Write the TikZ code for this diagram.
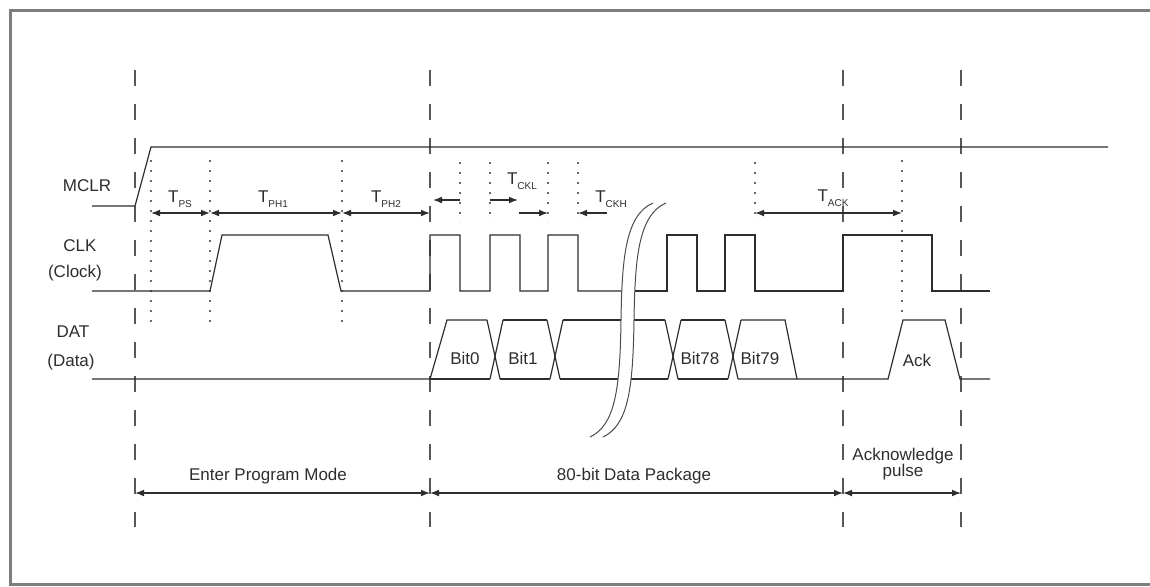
\documentclass[tikz,border=0pt]{standalone}
\usepackage{fontspec}
\setmainfont{Liberation Sans}
\usetikzlibrary{arrows.meta}
\definecolor{framegray}{RGB}{125,125,125}
\definecolor{ink}{RGB}{45,45,45}
\newcommand{\tsub}[1]{T\raisebox{-2.3pt}{\fontsize{5}{6}\selectfont #1}}
\begin{document}
\begin{tikzpicture}[x=0.5pt,y=-0.5pt,
  wave/.style={draw=ink, line width=0.6pt, line join=miter},
  vdash/.style={draw=ink!80, line width=0.6pt, dash pattern=on 8pt off 9pt},
  vdot/.style={draw=ink!70, line width=0.6pt, dash pattern=on 1.2pt off 3.8pt},
  dim/.style={draw=ink, line width=0.6pt, {Latex[length=4.5pt,width=3.4pt]}-{Latex[length=4.5pt,width=3.4pt]}},
  ptr/.style={draw=ink, line width=0.6pt, -{Latex[length=4.5pt,width=3.4pt]}},
  lbl/.style={font=\fontsize{8.5}{10}\selectfont, text=ink, inner sep=0pt},
  brk/.style={draw=ink!85, line width=0.5pt}
]
\useasboundingbox (0,0) rectangle (1150,586);
% frame
\draw[draw=framegray, line width=1.5pt] (1150,10) -- (10,10) -- (10,584) -- (1150,584);

% long dashed phase lines
\foreach \xx in {135,430,843,961} {
  \draw[vdash] (\xx,70) -- (\xx,527);
}
% dotted timing lines
\foreach \xx in {151,210,342} {
  \draw[vdot] (\xx,160) -- (\xx,327);
}
\foreach \xx in {460,490,548,578,755} {
  \draw[vdot] (\xx,162) -- (\xx,222);
}
\draw[vdot] (902,160) -- (902,318);

% MCLR
\draw[wave] (92,206) -- (135,206) -- (151,147) -- (1108,147);

% CLK
\draw[wave] (92,291) -- (210,291) -- (222,235) -- (328,235) -- (341,291) -- (430,291)
  -- (430,235) -- (460,235) -- (460,291) -- (490,291) -- (490,235) -- (520,235)
  -- (520,291) -- (548,291) -- (548,235) -- (578,235) -- (578,291) -- (621.5,291);
\draw[wave] (634.5,291) -- (667,291) -- (667,235) -- (697,235) -- (697,291)
  -- (725,291) -- (725,235) -- (755,235) -- (755,291) -- (843,291) -- (843,235)
  -- (932,235) -- (932,291) -- (990,291);

% DAT
\draw[wave] (92,379) -- (430,379) -- (447,320) -- (487,320);
\draw[wave] (430,379) -- (490,379);
% X at 495
\draw[wave] (487,320) -- (500,379);
\draw[wave] (490,379) -- (503,320);
\draw[wave] (503,320) -- (547,320);
\draw[wave] (500,379) -- (550,379);
% X at 555
\draw[wave] (547,320) -- (560,379);
\draw[wave] (550,379) -- (563,320);
\draw[wave] (563,320) -- (621,320);
\draw[wave] (560,379) -- (617.5,379);
\draw[wave] (634,320) -- (665,320);
\draw[wave] (630.5,379) -- (668,379);
% X at 673
\draw[wave] (665,320) -- (678,379);
\draw[wave] (668,379) -- (681,320);
\draw[wave] (681,320) -- (725,320);
\draw[wave] (678,379) -- (728,379);
% X at 733
\draw[wave] (725,320) -- (738,379);
\draw[wave] (728,379) -- (741,320);
\draw[wave] (741,320) -- (785,320) -- (797,379);
\draw[wave] (738,379) -- (888,379) -- (903,320) -- (945,320) -- (960,379) -- (990,379);

% break marks
\draw[brk] (653,203) .. controls (625,215) and (622,260) .. (621,320)
  .. controls (620,390) and (615,425) .. (590,437);
\draw[brk] (666,203) .. controls (638,215) and (635,260) .. (634,320)
  .. controls (633,390) and (628,425) .. (603,437);

% signal names
\node[lbl] (nmclr) at (87,186) {MCLR};
\node[lbl] (nclk) at (80,246) {CLK};
\node[lbl] (nclock) at (75,273) {(Clock)};
\node[lbl] (ndat) at (73,332) {DAT};
\node[lbl] (ndata) at (71,362) {(Data)};

% bit labels
\node[lbl] (b0) at (465,358) {Bit0};
\node[lbl] (b1) at (523,358) {Bit1};
\node[lbl] (b78) at (700,358) {Bit78};
\node[lbl] (b79) at (760,358) {Bit79};
\node[lbl] (ack) at (917,360) {Ack};

% timing coordinates
\coordinate (p151) at (151,213);
\coordinate (p210) at (210,213);
\coordinate (p342) at (342,213);
\coordinate (p430) at (430,213);
\coordinate (k433) at (433,200);
\coordinate (k460) at (460,200);
\coordinate (k490) at (490,200);
\coordinate (k518) at (518,200);
\coordinate (h519) at (519,213);
\coordinate (h548) at (548,213);
\coordinate (h578) at (578,213);
\coordinate (h607) at (607,213);
\coordinate (a755) at (755,213);
\coordinate (a902) at (902,213);

\draw[dim] (p151) -- (p210);
\draw[dim] (p210) -- (p342);
\draw[dim] (p342) -- (p430);
\draw[ptr] (k460) -- (k433);
\draw[ptr] (k490) -- (k518);
\draw[ptr] (h519) -- (h548);
\draw[ptr] (h607) -- (h578);
\draw[dim] (a755) -- (a902);

\node[lbl] (tps) at (180,199) {\tsub{PS}};
\node[lbl] (tph1) at (273,199) {\tsub{PH1}};
\node[lbl] (tph2) at (386,199) {\tsub{PH2}};
\node[lbl] (tckl) at (522,181) {\tsub{CKL}};
\node[lbl] (tckh) at (611,199) {\tsub{CKH}};
\node[lbl] (tack) at (833,198) {\tsub{ACK}};

% phase arrows
\coordinate (q135) at (135,493);
\coordinate (q430) at (430,493);
\coordinate (q843) at (843,493);
\coordinate (q961) at (961,493);
\draw[dim] (q135) -- (q430);
\draw[dim] (q430) -- (q843);
\draw[dim] (q843) -- (q961);
\node[lbl] (epm) at (268,476) {Enter Program Mode};
\node[lbl] (dpk) at (634,476) {80-bit Data Package};
\node[lbl, align=center, font=\fontsize{8.5}{8}\selectfont] (akp) at (903,464) {Acknowledge\\pulse};
\end{tikzpicture}
\end{document}
